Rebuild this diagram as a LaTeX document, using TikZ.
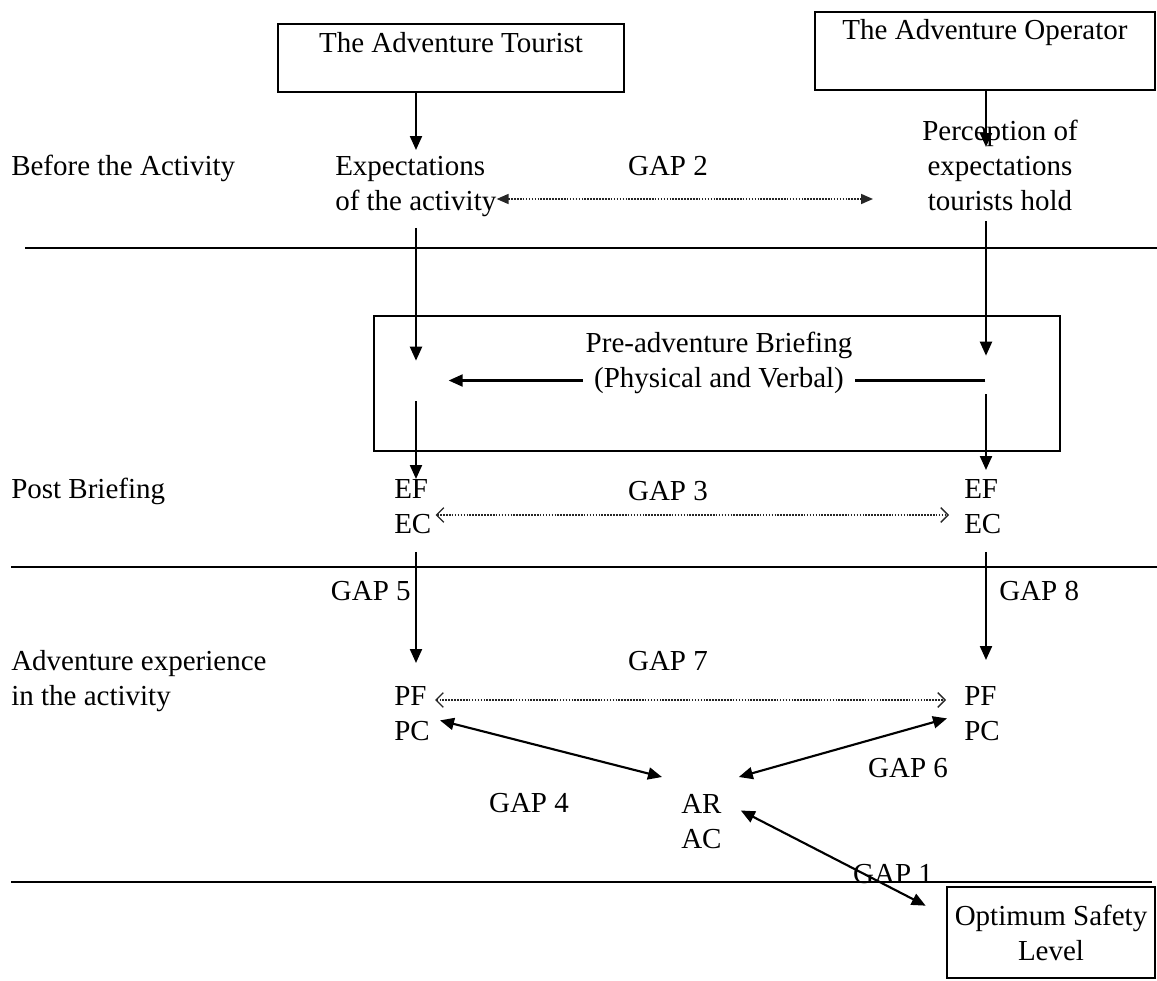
\documentclass[tikz,border=0pt]{standalone}
\usepackage{fontspec}
\setmainfont{Liberation Serif}
\usetikzlibrary{arrows.meta,calc}

\begin{document}
\begin{tikzpicture}[
             x                = 0.75pt,
             y                = -0.75pt,
             txt/.style       = {inner sep = 0pt, font = \fontsize{21.75pt}{26.25pt}\selectfont},
             box/.style       = {draw, line width = 2pt},
             rule/.style      = {line width = 1.5pt},
             arr/.style       = {line width = 1.6pt, -{Triangle[length = 10.5pt, width = 9pt]}},
             arrboth/.style   = {line width = 1.6pt,
                                 {Triangle[length = 10.5pt, width = 9pt]}-{Triangle[length = 10.5pt, width = 9pt]}},
             gapdot/.style    = {black!85, line width = 1.2pt, densely dotted},
             fullends/.style  = {{Triangle[length = 9pt, width = 7.5pt]}-{Triangle[length = 9pt, width = 7.5pt]}},
             openends/.style  = {{Straight Barb[length = 5.5pt, width = 11pt, line width = 1pt]}-{Straight Barb[length = 5.5pt, width = 11pt, line width = 1pt]}}]
             \useasboundingbox (0,0) rectangle (1157,981);
             \coordinate (colL) at (416,0);
             \coordinate (colR) at (986,0);
             \coordinate (g2row) at (0,199);
             \coordinate (g3row) at (0,515);
             \coordinate (g7row) at (0,700);
             \node [box, txt, minimum width = 259.5pt, text height = 16.5pt, text depth = 24pt,
                    inner ysep = 5.25pt] (tourist) at (451,58) {The Adventure Tourist};
             \node [box, txt, minimum width = 255pt, text height = 15.75pt, text depth = 32.25pt,
                    inner ysep = 5.25pt] (operator) at (985,51) {The Adventure Operator};
             \node [box, minimum width = 514.5pt, minimum height = 101.25pt] (brief) at (717,383.5) {};
             \node [box, txt, align = center, minimum width = 156pt, minimum height = 68.25pt]
                   (safe) at (1051,932.5) {Optimum Safety\\Level};
             \node [txt, anchor = base west] (before) at (11,175) {Before the Activity};
             \node [txt, anchor = north west, align = left] (expect) at (335,156) {Expectations\\of the activity};
             \node [txt, anchor = north, align = center] (perc) at (1000,120) {Perception of\\expectations\\tourists hold};
             \node [txt, anchor = base] (gap2) at (668,175) {GAP 2};
             \node [txt, anchor = base west] (post) at (11,498) {Post Briefing};
             \node [txt, anchor = north west, align = left] (efecL) at (394,479) {EF\\EC};
             \node [txt, anchor = north west, align = left] (efecR) at (964,479) {EF\\EC};
             \node [txt, anchor = base] (gap3) at (668,500) {GAP 3};
             \node [txt, anchor = base east] (gap5) at (411,600) {GAP 5};
             \node [txt, anchor = base west] (gap8) at (999,600) {GAP 8};
             \node [txt, anchor = north west, align = left] (advexp) at (11,650) {Adventure experience\\in the activity};
             \node [txt, anchor = base] (gap7) at (668,670) {GAP 7};
             \node [txt, anchor = north west, align = left] (pfpcL) at (394,686) {PF\\PC};
             \node [txt, anchor = north west, align = left] (pfpcR) at (964,686) {PF\\PC};
             \node [txt, anchor = base] (gap6) at (908,777) {GAP 6};
             \node [txt, anchor = base] (gap4) at (529,812) {GAP 4};
             \node [txt, anchor = north west, align = left] (arac) at (681,794) {AR\\AC};
             \draw [rule] (25,248) -- (1157,248);
             \draw [rule] (11,567) -- (1157,567);
             \draw [rule] (11,882) -- (1152,882);
             \draw [arr] (tourist.south -| colL) -- ($(expect.north -| colL)+(0,-6)$);
             \draw [arr] (operator.south -| colR) -- ($(perc.north -| colR)+(0,27)$);
             \draw [gapdot, fullends] (expect.east |- g2row) -- ($(perc.west |- g2row)+(-49,0)$);
             \draw [arr] ($(expect.south -| colL)+(0,11)$) -- ($(brief.north -| colL)+(0,46)$);
             \draw [arr] ($(perc.south -| colR)+(0,10)$) -- ($(brief.north -| colR)+(0,41)$);
             \draw [arr] ($(brief.east)+(-76,-3)$) -- ($(brief.west)+(76,-3)$);
             \node [txt, anchor = north, align = center, fill = white, inner xsep = 2pt]
                   (briefT) at (719,332) {Pre-adventure Briefing\\(Physical and Verbal)};
             \draw [arr] ($(brief.south -| colL)+(0,-51)$) -- (efecL.north -| colL);
             \draw [arr] ($(brief.south -| colR)+(0,-58)$) -- ($(efecR.north -| colR)+(0,-9)$);
             \draw [gapdot, openends] ($(efecL.east |- g3row)+(4,0)$) -- ($(efecR.west |- g3row)+(-15,0)$);
             \draw [arr] ($(efecL.south -| colL)+(0,18)$) -- ($(pfpcL.north -| colL)+(0,-23)$);
             \draw [arr] ($(efecR.south -| colR)+(0,18)$) -- ($(pfpcR.north -| colR)+(0,-26)$);
             \draw [gapdot, openends] ($(pfpcL.east |- g7row)+(5,0)$) -- ($(pfpcR.west |- g7row)+(-18,0)$);
             \draw [arrboth] ($(pfpcL.east)+(10,7)$) -- ($(arac.north west)+(-19,-17)$);
             \draw [arrboth] ($(pfpcR.west)+(-17,5)$) -- ($(arac.north east)+(17,-17)$);
             \draw [arrboth] ($(arac.east)+(19,-11)$) -- ($(safe.north west)+(-20,20)$);
             \node [txt, anchor = base] (gap1) at (893,883) {GAP 1};
    \end{tikzpicture}
\end{document}
